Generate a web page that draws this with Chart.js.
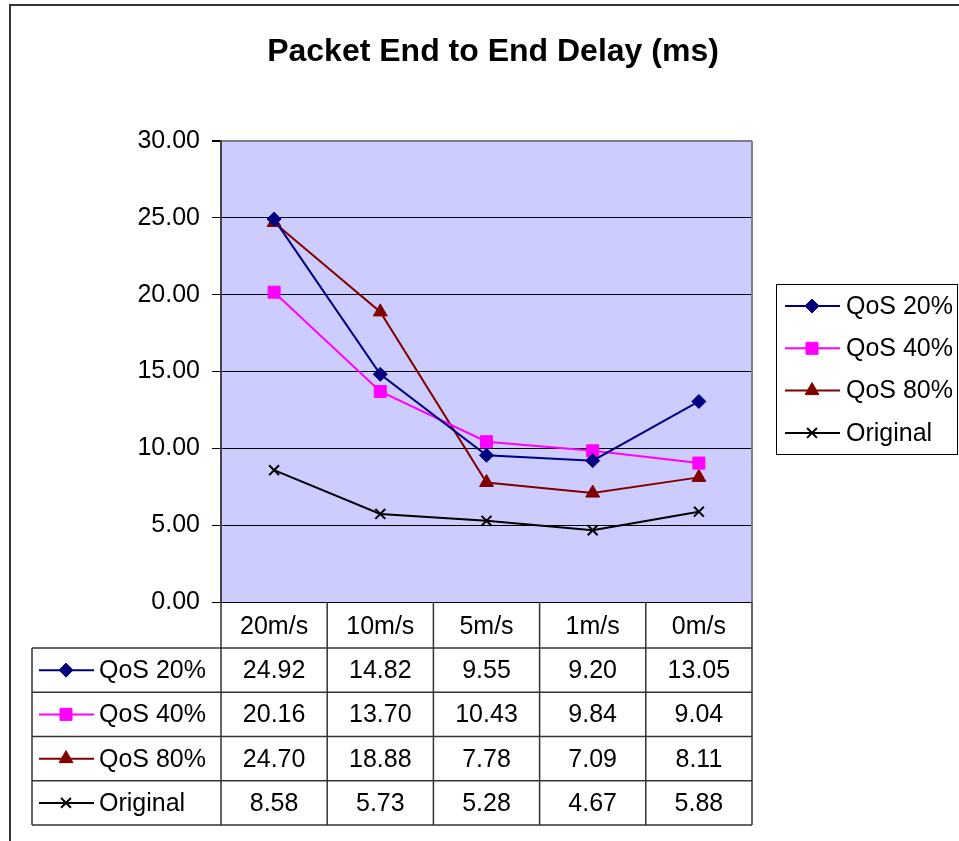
<!DOCTYPE html>
<html>
<head>
<meta charset="utf-8">
<script src="https://cdn.jsdelivr.net/npm/chart.js@4/dist/chart.umd.min.js"></script>
<style>
  html, body { margin: 0; padding: 0; background: #fff; }
  canvas { display: block; }
</style>
</head>
<body>
<canvas id="chart" width="959" height="841"></canvas>
<script>
// dados
const speeds = ["20m/s", "10m/s", "5m/s", "1m/s", "0m/s"];
const qos20 = [24.92, 14.82, 9.55, 9.20, 13.05];
const qos40 = [20.16, 13.70, 10.43, 9.84, 9.04];
const qos80 = [24.70, 18.88, 7.78, 7.09, 8.11];
const original = [8.58, 5.73, 5.28, 4.67, 5.88];
const yTicks = [0, 5, 10, 15, 20, 25, 30];

const FONT = "'Liberation Sans', Arial, sans-serif";
const FS = 25;

function serie(label, data, color, style, radius) {
  return {
    label, data,
    borderColor: color, backgroundColor: color,
    borderWidth: 2, pointStyle: style, pointRadius: radius,
    pointBorderWidth: style === "crossRot" ? 2 : 1,
    pointHoverRadius: radius, tension: 0
  };
}

const datasets = [
  serie("QoS 20%", qos20, "#000080", "rectRot", 7),
  serie("QoS 40%", qos40, "#FF00FF", "rect", 8.5),
  serie("QoS 80%", qos80, "#800000", "triangle", 8),
  serie("Original", original, "#000000", "crossRot", 7)
];

function marker(ctx, ds, x, y) {
  ctx.save();
  ctx.strokeStyle = ds.borderColor;
  ctx.lineWidth = 2;
  ctx.beginPath(); ctx.moveTo(x - 27, y); ctx.lineTo(x + 28, y); ctx.stroke();
  ctx.fillStyle = ds.backgroundColor;
  ctx.lineWidth = ds.pointBorderWidth;
  Chart.helpers.drawPoint(ctx, { pointStyle: ds.pointStyle, radius: ds.pointRadius, rotation: 0, borderWidth: ds.pointBorderWidth }, x, y);
  ctx.restore();
}

// fundo, moldura e título
const fundo = {
  id: "fundo",
  beforeDraw(chart) {
    const { ctx, chartArea: a } = chart;
    ctx.save();
    ctx.fillStyle = "#CCCCFF";
    ctx.fillRect(a.left, a.top, a.right - a.left, a.bottom - a.top);
    ctx.restore();
  },
  afterDraw(chart) {
    const { ctx, chartArea: a } = chart;
    ctx.save();
    // borda direita do plot
    ctx.strokeStyle = "#808080"; ctx.lineWidth = 2;
    ctx.beginPath(); ctx.moveTo(a.right, a.top); ctx.lineTo(a.right, a.bottom); ctx.stroke();
    // moldura externa
    ctx.strokeStyle = "#333"; ctx.lineWidth = 2;
    ctx.beginPath(); ctx.moveTo(10, 841); ctx.lineTo(10, 5); ctx.lineTo(959, 5); ctx.stroke();
    // título
    ctx.fillStyle = "#000";
    ctx.font = "bold 32px " + FONT;
    ctx.textAlign = "center"; ctx.textBaseline = "alphabetic";
    ctx.fillText("Packet End to End Delay (ms)", 493, 61);
    ctx.restore();
  }
};

// tabela de dados
const tabela = {
  id: "tabela",
  afterDraw(chart) {
    const { ctx, chartArea: a } = chart;
    const x = chart.scales.x;
    const step = x.getPixelForValue(1) - x.getPixelForValue(0);
    const cols = speeds.map((s, i) => x.getPixelForValue(i) - step / 2);
    cols.push(a.right);
    const top = a.bottom, head = 648, bottom = 825, left = 32;
    const rowH = (bottom - head) / datasets.length;
    ctx.save();
    ctx.strokeStyle = "#333"; ctx.lineWidth = 1.5;
    ctx.beginPath();
    cols.forEach(c => { ctx.moveTo(c, top); ctx.lineTo(c, bottom); });
    ctx.moveTo(left, head); ctx.lineTo(left, bottom);
    for (let r = 0; r <= datasets.length; r++) {
      const y = head + r * rowH;
      ctx.moveTo(left, y); ctx.lineTo(a.right, y);
    }
    ctx.stroke();
    ctx.font = FS + "px " + FONT;
    ctx.textBaseline = "middle";
    datasets.forEach((ds, r) => {
      const y = head + (r + 0.5) * rowH;
      marker(ctx, ds, 66, y);
      ctx.fillStyle = "#000";
      ctx.textAlign = "left";
      ctx.fillText(ds.label, 99, y + 1);
      ctx.textAlign = "center";
      ds.data.forEach((v, i) => ctx.fillText(v.toFixed(2), x.getPixelForValue(i), y + 1));
    });
    ctx.restore();
  }
};

// legenda
const legenda = {
  id: "legenda",
  afterDraw(chart) {
    const ctx = chart.ctx;
    ctx.save();
    ctx.strokeStyle = "#000"; ctx.lineWidth = 1;
    ctx.strokeRect(776.5, 284.5, 181, 170);
    ctx.font = FS + "px " + FONT;
    ctx.textBaseline = "middle"; ctx.textAlign = "left";
    datasets.forEach((ds, i) => {
      const y = 306 + i * 42.3;
      marker(ctx, ds, 812, y);
      ctx.fillStyle = "#000";
      ctx.fillText(ds.label, 846, y + 1);
    });
    ctx.restore();
  }
};

new Chart(document.getElementById("chart"), {
  type: "line",
  data: { labels: speeds, datasets },
  options: {
    responsive: false,
    animation: false,
    devicePixelRatio: 1,
    layout: { padding: { top: 141, right: 207, left: 0, bottom: 0 } },
    plugins: { legend: { display: false }, title: { display: false }, tooltip: { enabled: false } },
    scales: {
      x: {
        offset: true,
        grid: { display: false },
        border: { display: false },
        ticks: { color: "#000", font: { size: FS, family: FONT }, padding: 2, maxRotation: 0 },
        afterFit: s => { s.height = 841 - 602; }
      },
      y: {
        min: 0, max: 30,
        afterBuildTicks: s => { s.ticks = yTicks.map(v => ({ value: v })); },
        ticks: { color: "#000", font: { size: FS, family: FONT }, padding: 12, callback: v => Number(v).toFixed(2) },
        grid: {
          color: c => (c.tick && c.tick.value === 30 ? "#808080" : "#000"),
          lineWidth: c => (c.tick && c.tick.value === 30 ? 2 : 1),
          tickLength: 9, tickColor: "#000"
        },
        border: { color: "#444", width: 2 },
        afterFit: s => { s.width = 221; }
      }
    }
  },
  plugins: [fundo, tabela, legenda]
});
</script>
</body>
</html>
